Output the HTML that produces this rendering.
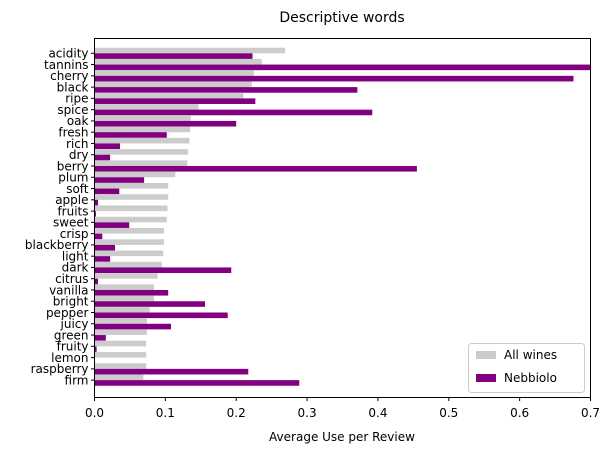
<!DOCTYPE html>
<html><head><meta charset="utf-8"><style>
body{margin:0;background:#fff;}
svg text{font-family:"DejaVu Sans","Liberation Sans",sans-serif;}
</style></head><body>
<svg id="chart" width="610" height="453" xmlns="http://www.w3.org/2000/svg">
<text x="342" y="22" font-size="14" text-anchor="middle">Descriptive words</text>
<g id="bars"></g>
<rect x="94.5" y="38.5" width="496" height="359" fill="none" stroke="#000" stroke-width="1"/>
<g id="axes"></g>
<text x="342" y="441" font-size="12" text-anchor="middle">Average Use per Review</text>
<g>
<rect x="468.5" y="343.5" width="116" height="49" rx="3" fill="#fff" fill-opacity="0.8" stroke="#ccc"/>
<rect x="476" y="351" width="20" height="8" fill="#cccccc"/>
<text x="504" y="359" font-size="12">All wines</text>
<rect x="476" y="374" width="20" height="8" fill="#800080"/>
<text x="504" y="382" font-size="12">Nebbiolo</text>
</g>
</svg>
<script>
const categories=["acidity","tannins","cherry","black","ripe","spice","oak","fresh","rich","dry","berry","plum","soft","apple","fruits","sweet","crisp","blackberry","light","dark","citrus","vanilla","bright","pepper","juicy","green","fruity","lemon","raspberry","firm"];
const allWines=[0.269,0.236,0.225,0.222,0.21,0.147,0.136,0.135,0.134,0.132,0.131,0.114,0.104,0.104,0.103,0.102,0.098,0.098,0.097,0.095,0.089,0.084,0.084,0.078,0.074,0.074,0.073,0.073,0.073,0.069];
const nebbiolo=[0.223,0.75,0.676,0.371,0.227,0.392,0.2,0.102,0.036,0.022,0.455,0.07,0.035,0.005,0.002,0.049,0.011,0.029,0.022,0.193,0.005,0.104,0.156,0.188,0.108,0.016,0.003,0,0.217,0.289];
const xTicks=[0,0.1,0.2,0.3,0.4,0.5,0.6,0.7];
const NS="http://www.w3.org/2000/svg";
const x0=94.5,x1=590.5,xMax=0.7;
function xs(v){return x0+(Math.min(v,xMax)/xMax)*(x1-x0);}
function yc(i){return 53.3+i*11.27;}
const bh=5.6;
const bars=document.getElementById('bars'),axes=document.getElementById('axes');
function mk(t,a,p){const e=document.createElementNS(NS,t);for(const k in a)e.setAttribute(k,a[k]);p.appendChild(e);return e;}
categories.forEach((c,i)=>{
 const g=mk('rect',{x:x0,y:yc(i)-bh,width:xs(allWines[i])-x0,height:bh,fill:'#cccccc'},bars);
 
 
 const p=mk('rect',{x:x0,y:yc(i),width:xs(nebbiolo[i])-x0,height:bh,fill:'#800080'},bars);
 
 
 const tk=mk('line',{x1:x0-3.5,x2:x0,y1:yc(i),y2:yc(i),stroke:'#000'},axes);
 
 
 const t=mk('text',{x:x0-6,y:yc(i)+4.3,'font-size':12,'text-anchor':'end'},axes);
 t.textContent=c;
 
 
});
xTicks.forEach(v=>{
 const tk=mk('line',{x1:xs(v),x2:xs(v),y1:397.5,y2:401,stroke:'#000'},axes);
 
 
 const t=mk('text',{x:xs(v),y:417,'font-size':12,'text-anchor':'middle'},axes);
 t.textContent=v.toFixed(1);
 
 
});
</script>
</body></html>
